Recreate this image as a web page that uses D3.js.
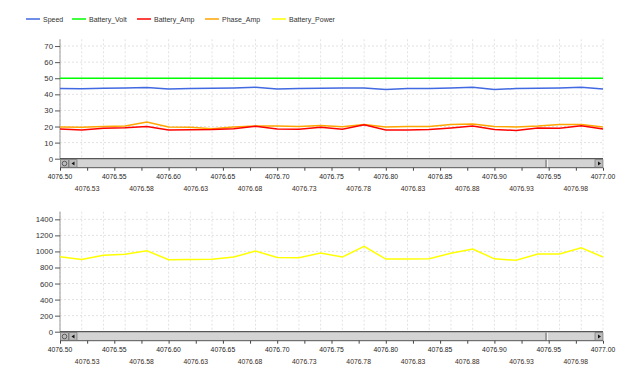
<!DOCTYPE html>
<html><head><meta charset="utf-8">
<script src="https://cdn.jsdelivr.net/npm/d3@7"></script>
<style>body{margin:0;background:#fff}svg{display:block;font-family:"Liberation Sans",Arial,sans-serif}</style>
</head><body><svg id="c" width="640" height="385"></svg>
<script>
const xValues = [4076.50,4076.52,4076.54,4076.56,4076.58,4076.60,4076.62,4076.64,4076.66,4076.68,4076.70,4076.72,4076.74,4076.76,4076.78,4076.80,4076.82,4076.84,4076.86,4076.88,4076.90,4076.92,4076.94,4076.96,4076.98,4077.00];
const speed = [43.7,43.5,43.8,44.0,44.2,43.3,43.6,43.8,44.0,44.4,43.3,43.7,43.8,44.0,43.9,43.0,43.6,43.7,44.0,44.4,43.0,43.6,43.8,44.0,44.4,43.3];
const batteryVolt = [50,50,50,50,50,50,50,50,50,50,50,50,50,50,50,50,50,50,50,50,50,50,50,50,50,50];
const batteryAmp = [18.5,17.8,18.9,19.2,20.0,17.9,18.0,18.1,18.6,20.1,18.4,18.3,19.6,18.3,21.1,17.9,17.9,18.1,19.1,20.3,18.2,17.5,19.1,18.9,20.5,18.4];
const phaseAmp = [19.7,19.5,20.0,20.3,22.8,19.7,19.5,18.6,19.7,20.3,20.3,20.0,20.6,19.9,21.2,19.7,20.0,20.0,21.3,21.5,20.0,19.7,20.3,21.3,21.3,19.7];
const batteryPower = [934,901,951,964,1009,897,900,904,930,1005,925,921,980,930,1063,905,905,908,978,1030,908,889,967,967,1046,930];
const seriesNames = ["Speed","Battery_Volt","Battery_Amp","Phase_Amp","Battery_Power"];
const seriesColors = ["#4169E1","#00FF00","#FF0000","#FFA500","#FFFF00"];
const topTicks = [0,10,20,30,40,50,60,70];
const bottomTicks = [0,200,400,600,800,1000,1200,1400];
const xTickMajor = [4076.50,4076.55,4076.60,4076.65,4076.70,4076.75,4076.80,4076.85,4076.90,4076.95,4077.00];
const xTickMinor = [4076.525,4076.575,4076.625,4076.675,4076.725,4076.775,4076.825,4076.875,4076.925,4076.975];
const xTickMinorLabels = ["4076.53","4076.58","4076.63","4076.68","4076.73","4076.78","4076.83","4076.88","4076.93","4076.98"];

const svg = d3.select("#c");
const x = d3.scaleLinear().domain([4076.5,4077.0]).range([60,603]);

// legend
const legX = [26,72,137,205,272];
const leg = svg.append("g");
seriesNames.forEach((n,i)=>{
  leg.append("line").attr("x1",legX[i]).attr("x2",legX[i]+14).attr("y1",19).attr("y2",19)
    .attr("stroke",seriesColors[i]).attr("stroke-width",1.5);
  leg.append("text").attr("x",legX[i]+17).attr("y",21.5).attr("font-size","7px").attr("fill","#333").text(n);
});

function panel(y0, yTop, domainMax, ticks, series) {
  const y = d3.scaleLinear().domain([0,domainMax]).range([y0,yTop]);
  const g = svg.append("g");
  // vertical grid
  g.selectAll(".vg").data(xValues).enter().append("line")
    .attr("x1",d=>x(d)).attr("x2",d=>x(d)).attr("y1",yTop).attr("y2",y0)
    .attr("stroke","#e2e2e2").attr("stroke-width",1).attr("stroke-dasharray","2,2");
  // horizontal grid
  g.selectAll(".hg").data(ticks.slice(1)).enter().append("line")
    .attr("x1",60).attr("x2",603).attr("y1",d=>y(d)).attr("y2",d=>y(d))
    .attr("stroke","#e2e2e2").attr("stroke-width",1).attr("stroke-dasharray","2,2");
  // y axis
  const ya = d3.axisLeft(y).tickValues(ticks).tickSize(5).tickPadding(2).tickFormat(d3.format("d"));
  const ag = g.append("g").attr("transform","translate(60,0)").call(ya);
  ag.select(".domain").attr("stroke","#999").attr("d",`M0,${yTop}V${y0}`);
  ag.selectAll(".tick line").attr("stroke","#555");
  ag.selectAll("text").attr("font-size","7.8px").attr("fill","#333").attr("font-family","Liberation Sans, Arial, sans-serif");
  // lines
  series.forEach(s=>{
    const line = d3.line().x((d,i)=>x(xValues[i])).y(d=>y(d));
    g.append("path").datum(s.v).attr("d",line).attr("fill","none")
      .attr("stroke",s.c).attr("stroke-width",1.5);
  });
  // scrollbar
  const sb = g.append("g");
  sb.append("rect").attr("x",60).attr("y",y0).attr("width",543).attr("height",9)
    .attr("fill","#d4d4d4").attr("stroke","none");
  sb.append("line").attr("x1",60).attr("x2",603).attr("y1",y0).attr("y2",y0).attr("stroke","#333").attr("stroke-width",1);
  sb.append("line").attr("x1",60).attr("x2",603).attr("y1",y0+9).attr("y2",y0+9).attr("stroke","#555").attr("stroke-width",1);
  // left buttons
  sb.append("rect").attr("x",60.5).attr("y",y0+1).attr("width",8).attr("height",7.5).attr("fill","#bcbcbc").attr("stroke","#666").attr("stroke-width",0.6);
  sb.append("circle").attr("cx",64.5).attr("cy",y0+4.8).attr("r",2.3).attr("fill","none").attr("stroke","#444").attr("stroke-width",0.8);
  sb.append("rect").attr("x",69).attr("y",y0+1).attr("width",8).attr("height",7.5).attr("fill","#bcbcbc").attr("stroke","#666").attr("stroke-width",0.6);
  sb.append("path").attr("d",`M71.5,${y0+4.8}L74.5,${y0+2.8}L74.5,${y0+6.8}Z`).attr("fill","#111");
  // thumb edge
  sb.append("line").attr("x1",546).attr("x2",546).attr("y1",y0+1).attr("y2",y0+8.5).attr("stroke","#666").attr("stroke-width",1);
  sb.append("line").attr("x1",547.5).attr("x2",547.5).attr("y1",y0+1).attr("y2",y0+8.5).attr("stroke","#f4f4f4").attr("stroke-width",1);
  // right button
  sb.append("rect").attr("x",595).attr("y",y0+1).attr("width",8).attr("height",7.5).attr("fill","#bcbcbc").attr("stroke","#666").attr("stroke-width",0.6);
  sb.append("path").attr("d",`M601,${y0+4.8}L598,${y0+2.8}L598,${y0+6.8}Z`).attr("fill","#111");
  // x axis ticks
  const xa = d3.axisBottom(x).tickValues(xTickMajor.concat(xTickMinor)).tickSize(3).tickFormat("");
  const xg = g.append("g").attr("transform",`translate(0,${y0+9})`).call(xa);
  xg.select(".domain").remove();
  xg.selectAll(".tick line").attr("stroke","#444");
  g.selectAll(".xl1").data(xTickMajor).enter().append("text")
    .attr("x",d=>x(d)).attr("y",y0+20).attr("text-anchor","middle").attr("font-size","6.8px").attr("fill","#222")
    .text(d=>d.toFixed(2));
  g.selectAll(".xl2").data(xTickMinor).enter().append("text")
    .attr("x",d=>x(d)).attr("y",y0+32).attr("text-anchor","middle").attr("font-size","6.8px").attr("fill","#3a2a22")
    .text((d,i)=>xTickMinorLabels[i]);
}

panel(158.7, 39.3, 74.2, topTicks, [
  {v:speed,c:seriesColors[0]},
  {v:batteryVolt,c:seriesColors[1]},
  {v:phaseAmp,c:seriesColors[3]},
  {v:batteryAmp,c:seriesColors[2]}
]);
panel(331.7, 211.7, 1495, bottomTicks, [
  {v:batteryPower,c:seriesColors[4]}
]);
</script></body></html>
